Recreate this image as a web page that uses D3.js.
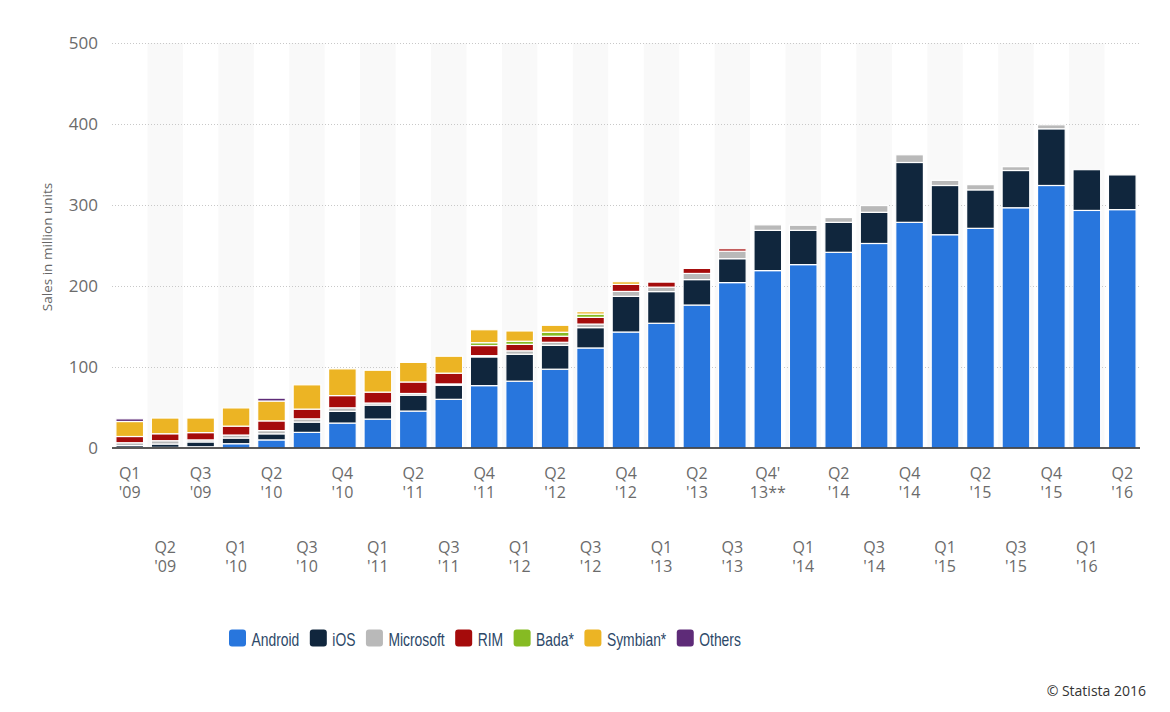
<!DOCTYPE html>
<head>
  <meta charset="utf-8">
  <script src="https://d3js.org/d3.v7.min.js"></script>
  <style>
  body { margin: 0; background: #fff; }
  svg text { font-family: "Open Sans", sans-serif; }
  .grid line { stroke: #c8c8c8; stroke-dasharray: 1,2; }
  .tick-label { fill: #6b6b6b; font-size: 16px; }
  .legend text { font-family: "Liberation Sans", sans-serif; font-size: 18.5px; fill: #2c4868; }
</style>
</head>
<body>
<svg width="1170" height="712"></svg>

<script type="text/javascript">
// Quarters (Q4 '09 is not in the source)
var quarters = ["Q1 '09","Q2 '09","Q3 '09","Q1 '10","Q2 '10","Q3 '10","Q4 '10","Q1 '11","Q2 '11","Q3 '11",
  "Q4 '11","Q1 '12","Q2 '12","Q3 '12","Q4 '12","Q1 '13","Q2 '13","Q3 '13","Q4' 13**","Q1 '14",
  "Q2 '14","Q3 '14","Q4 '14","Q1 '15","Q2 '15","Q3 '15","Q4 '15","Q1 '16","Q2 '16"];

// sales in million units
var android   = [0.5, 0.8, 1.5, 5.3, 10, 19.3, 30.8, 35.7, 45.6, 60.1, 77, 82.5, 97.3, 123.5, 143.2, 154, 176.5, 204.2, 219, 226.4, 241.6, 252.5, 278.6, 263.3, 271.2, 296.6, 324.1, 293.3, 294.3];
var ios       = [2.5, 4.1, 6, 7, 7.5, 12.7, 14.4, 17.3, 19.7, 17.5, 35.5, 33.3, 29.5, 25.1, 44, 39.1, 31.4, 29.5, 49.7, 42.3, 37, 38.5, 73.9, 60.8, 47.5, 46, 70, 50.3, 43.1];
var microsoft = [3.5, 4.1, 2.5, 3.7, 4, 4, 4.4, 2.5, 2, 1.5, 1.5, 4.2, 3.7, 4.4, 6.1, 5.5, 7.6, 9.3, 6.8, 6.3, 5.9, 8.3, 9.5, 6.3, 6.4, 4.7, 4.9, 0, 1.6];
var rim       = [7.7, 8.6, 9, 11, 12, 12, 15.1, 13.5, 14.2, 13.3, 12.5, 8, 7.5, 8.3, 8.7, 6.2, 6.2, 3, 0, 0, 0, 0, 0, 0, 0, 0, 0, 0, 0];
var bada      = [0, 0, 0, 0, 0, 0, 0, 0, 0, 0, 3.5, 3.8, 4.9, 4, 0, 0, 0, 0, 0, 0, 0, 0, 0, 0, 0, 0, 0, 0, 0];
var symbian   = [18.5, 19.4, 18, 22.5, 24.5, 30, 33, 27, 24.2, 20.9, 16, 12.7, 8.6, 3, 3.3, 0, 0, 0, 0, 0, 0, 0, 0, 0, 0, 0, 0, 0, 0];
var others    = [3.3, 0, 0, 0, 3.5, 0, 0, 0, 0, 0, 0, 0, 0, 0, 0, 0, 0, 0, 0, 0, 0, 0, 0, 0, 0, 0, 0, 0, 0];

var seriesNames = ["Android", "iOS", "Microsoft", "RIM", "Bada*", "Symbian*", "Others"];
var seriesValues = [android, ios, microsoft, rim, bada, symbian, others];
var colors = ["#2876dd", "#10263d", "#b9b9b9", "#a50b0b", "#86bb23", "#ecb424", "#5e2b78"];
var yTicks = [0, 100, 200, 300, 400, 500];

var svg = d3.select("svg");
var plotLeft = 112, plotRight = 1140, plotTop = 43, plotBottom = 448;

var x = d3.scaleBand().domain(quarters).range([plotLeft, plotRight]).paddingInner(0.22).paddingOuter(0.11);
var y = d3.scaleLinear().domain([0, 500]).range([plotBottom, plotTop]);

// rows for the stack
var rows = quarters.map(function (q, i) {
  var r = { q: q };
  seriesNames.forEach(function (s, j) { r[s] = seriesValues[j][i]; });
  return r;
});
var stack = d3.stack().keys(seriesNames)(rows);

// alternating background bands
var step = x.step();
svg.append("g").selectAll("rect")
  .data(quarters.filter(function (d, i) { return i % 2 == 1; }))
  .enter().append("rect")
    .attr("x", function (d) { return x(d) + x.bandwidth() / 2 - step / 2; })
    .attr("width", step)
    .attr("y", plotTop)
    .attr("height", plotBottom - plotTop)
    .attr("fill", "#f9f9f9");

// dotted gridlines
svg.append("g").attr("class", "grid").selectAll("line")
  .data(yTicks.filter(function (d) { return d > 0; }))
  .enter().append("line")
    .attr("x1", plotLeft).attr("x2", plotRight)
    .attr("y1", function (d) { return y(d) + 0.5; })
    .attr("y2", function (d) { return y(d) + 0.5; });

// y tick labels
svg.append("g").selectAll("text")
  .data(yTicks)
  .enter().append("text")
    .attr("class", "tick-label")
    .style("font-size", "17px")
    .attr("x", 98)
    .attr("y", function (d) { return y(d); })
    .attr("dy", "0.36em")
    .attr("text-anchor", "end")
    .text(function (d) { return d; });

// y title
svg.append("text")
  .attr("transform", "translate(52," + 247 + ") rotate(-90)")
  .attr("text-anchor", "middle")
  .style("font-size", "13.5px")
  .attr("fill", "#666")
  .text("Sales in million units");

// stacked bars
svg.append("g").selectAll("g")
  .data(stack)
  .enter().append("g")
    .attr("fill", function (d, i) { return colors[i]; })
  .selectAll("rect")
  .data(function (d) { return d.filter(function (p) { return p[1] - p[0] > 0; }); })
  .enter().append("rect")
    .attr("x", function (d) { return x(d.data.q); })
    .attr("width", x.bandwidth())
    .attr("y", function (d) { return y(d[1]); })
    .attr("height", function (d) { return y(d[0]) - y(d[1]); })
    .attr("stroke", "#fff")
    .attr("stroke-width", 1.2);

// baseline
svg.append("line")
  .attr("x1", plotLeft).attr("x2", plotRight)
  .attr("y1", y(0)).attr("y2", y(0))
  .attr("stroke", "#222").attr("stroke-width", 1.5);

// x labels, two lines each, alternating rows
var xl = svg.append("g").selectAll("text")
  .data(quarters)
  .enter().append("text")
    .attr("class", "tick-label")
    .attr("text-anchor", "middle")
    .attr("x", function (d) { return x(d) + x.bandwidth() / 2; })
    .attr("y", function (d, i) { return i % 2 == 0 ? 479 : 553; });
xl.each(function (d) {
  var parts = d.split(" ");
  var t = d3.select(this);
  t.append("tspan").attr("x", t.attr("x")).text(parts[0]);
  t.append("tspan").attr("x", t.attr("x")).attr("dy", 18.5).text(parts[1]);
});

// legend (text squeezed horizontally to mimic the condensed face)
var legend = svg.append("g").attr("class", "legend");
var squeeze = 0.75;
var lx = 229;
seriesNames.forEach(function (s, i) {
  legend.append("rect")
    .attr("x", lx).attr("y", 629.5)
    .attr("width", 17).attr("height", 17)
    .attr("rx", 3)
    .attr("fill", colors[i]);
  var t = legend.append("text")
    .attr("transform", "translate(" + (lx + 22.5) + ",645.5) scale(" + squeeze + ",1)")
    .text(s);
  lx = lx + 22.5 + t.node().getComputedTextLength() * squeeze + 10.5;
});

svg.append("text")
  .attr("x", 1146).attr("y", 696)
  .attr("text-anchor", "end")
  .style("font-size", "14px")
  .attr("fill", "#333")
  .text("\u00a9 Statista 2016");
</script>

</body>
</html>
